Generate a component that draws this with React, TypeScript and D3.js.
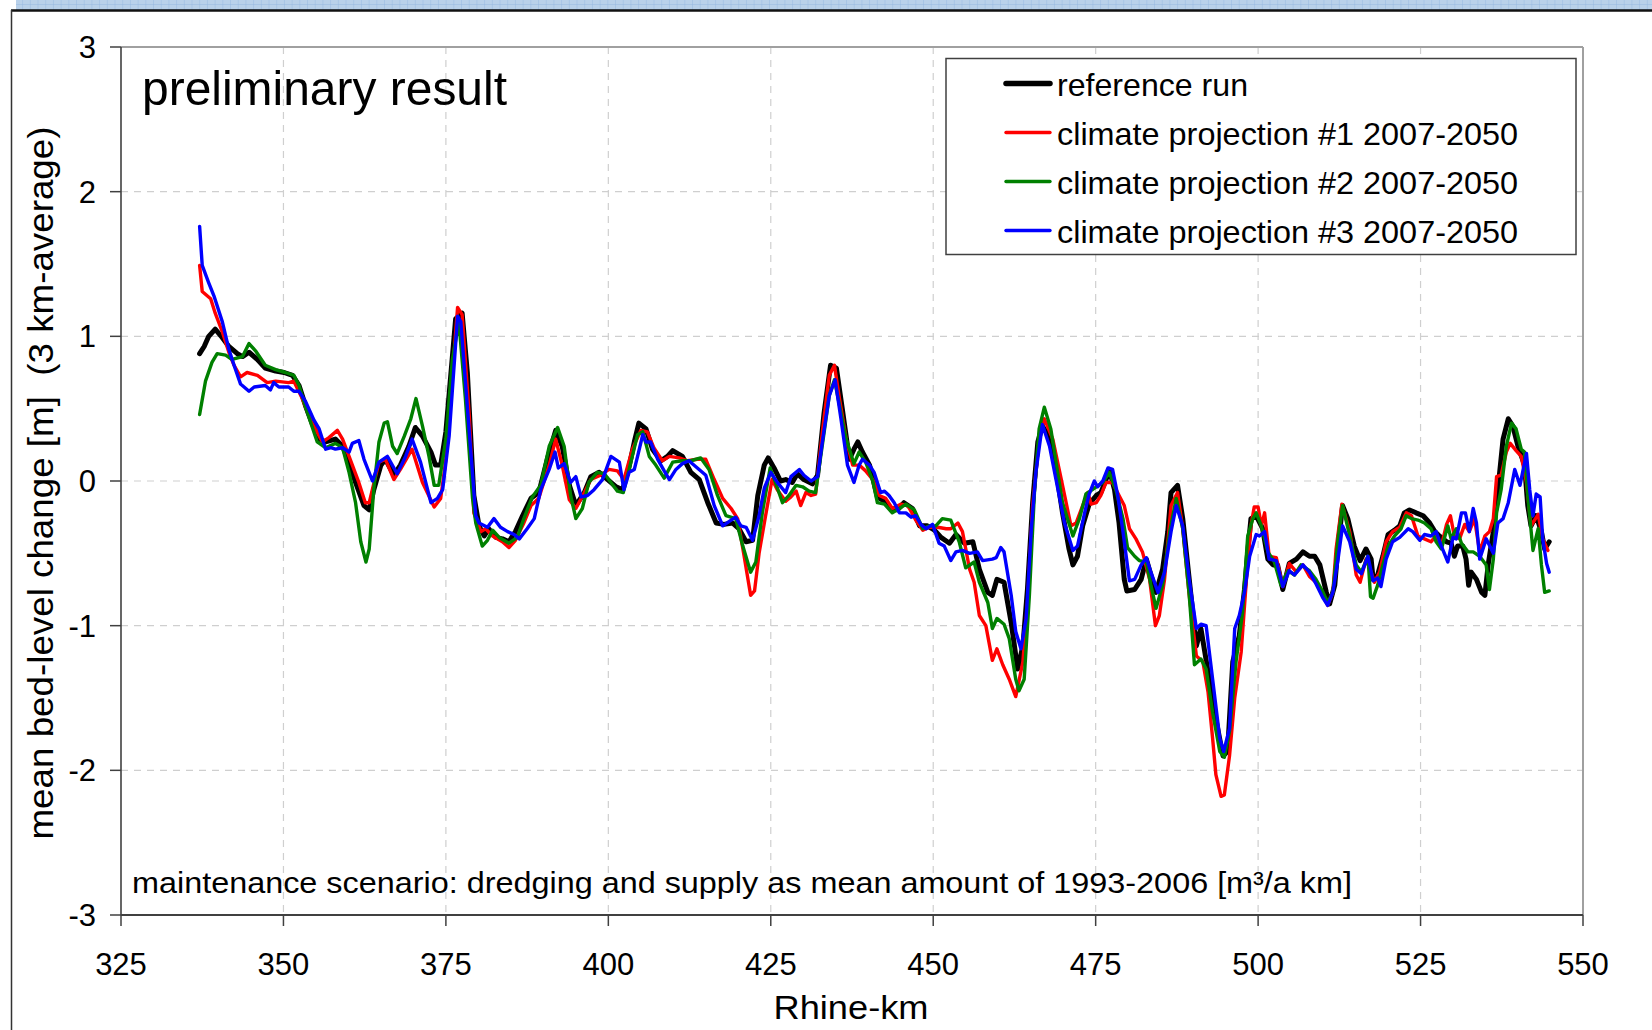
import React from "react";
import * as d3 from "d3";

// ---- data ----
const xTicks = [325, 350, 375, 400, 425, 450, 475, 500, 525, 550];
const yTicks = [-3, -2, -1, 0, 1, 2, 3];

const seriesNames = [
  "reference run",
  "climate projection #1 2007-2050",
  "climate projection #2 2007-2050",
  "climate projection #3 2007-2050",
];
const seriesColors = ["#000000", "#ff0000", "#008000", "#0000ff"];

const referenceRun: [number, number][] = [
  [337.1,0.88],[337.8,0.93],[338.5,1.00],[339.5,1.05],[340.6,0.99],[341.6,0.93],[342.9,0.88],[343.7,0.86],[344.7,0.89],[346.0,0.84],[347.2,0.78],[348.8,0.76],[350.1,0.75],[351.4,0.73],[352.4,0.66],[353.4,0.52],[354.4,0.40],[355.5,0.29],[356.5,0.27],[358.0,0.29],[359.1,0.24],[360.1,0.13],[361.1,-0.01],[362.4,-0.17],[363.2,-0.20],[363.9,-0.06],[365.0,0.11],[365.7,0.15],[367.0,0.04],[368.0,0.11],[369.3,0.24],[370.3,0.37],[371.4,0.31],[372.7,0.20],[373.4,0.11],[374.2,0.11],[375.0,0.34],[376.5,1.12],[377.5,1.16],[378.3,0.75],[379.3,-0.10],[380.1,-0.31],[380.9,-0.38],[381.6,-0.33],[382.7,-0.39],[383.7,-0.40],[384.7,-0.42],[385.7,-0.35],[386.8,-0.24],[388.1,-0.12],[389.3,-0.08],[390.6,0.15],[391.9,0.35],[392.9,0.24],[394.0,-0.03],[395.0,-0.17],[396.3,-0.08],[397.3,0.03],[398.6,0.06],[399.9,0.01],[401.2,-0.04],[402.2,-0.06],[403.2,0.10],[404.0,0.27],[404.7,0.40],[405.8,0.36],[406.8,0.22],[408.1,0.14],[409.1,0.17],[409.9,0.21],[411.4,0.17],[412.7,0.06],[414.0,0.01],[415.3,-0.15],[416.6,-0.29],[417.8,-0.30],[419.1,-0.29],[420.1,-0.33],[421.2,-0.42],[422.2,-0.41],[423.0,-0.10],[424.0,0.11],[424.6,0.16],[425.5,0.09],[426.5,0.00],[427.3,0.01],[428.3,-0.01],[429.1,0.05],[430.1,0.01],[431.4,-0.02],[432.2,0.04],[433.2,0.47],[434.2,0.80],[435.1,0.78],[436.0,0.50],[437.1,0.15],[437.8,0.22],[438.4,0.27],[439.1,0.20],[440.2,0.11],[441.4,-0.11],[442.5,-0.14],[443.5,-0.19],[444.5,-0.20],[445.5,-0.15],[446.8,-0.19],[447.9,-0.31],[449.1,-0.31],[450.2,-0.34],[451.2,-0.39],[452.5,-0.43],[453.5,-0.37],[454.8,-0.43],[456.1,-0.42],[457.1,-0.61],[458.4,-0.77],[459.1,-0.79],[459.8,-0.68],[460.9,-0.70],[462.0,-0.98],[463.0,-1.30],[463.8,-1.14],[464.5,-0.75],[465.3,-0.15],[466.1,0.27],[466.8,0.38],[467.9,0.30],[468.9,0.08],[469.9,-0.22],[470.9,-0.47],[471.5,-0.58],[472.2,-0.52],[473.0,-0.31],[474.0,-0.16],[475.1,-0.10],[475.8,-0.08],[476.6,0.01],[477.1,0.08],[477.9,-0.06],[478.6,-0.29],[479.4,-0.68],[479.8,-0.76],[481.0,-0.75],[482.0,-0.68],[482.8,-0.54],[483.5,-0.65],[484.3,-0.77],[485.3,-0.61],[486.1,-0.35],[486.6,-0.08],[487.6,-0.03],[488.4,-0.26],[489.4,-0.68],[490.5,-1.14],[491.2,-1.02],[492.3,-1.32],[493.3,-1.60],[494.6,-1.90],[495.3,-1.87],[496.1,-1.25],[497.1,-1.07],[497.9,-0.75],[498.4,-0.49],[498.9,-0.26],[499.7,-0.24],[500.7,-0.33],[501.5,-0.54],[502.3,-0.58],[503.0,-0.58],[503.8,-0.75],[504.8,-0.57],[505.9,-0.54],[506.9,-0.49],[507.9,-0.52],[508.7,-0.52],[509.5,-0.58],[510.5,-0.77],[511.0,-0.85],[511.8,-0.72],[512.3,-0.45],[513.0,-0.17],[513.8,-0.26],[514.8,-0.45],[515.7,-0.55],[516.6,-0.47],[517.4,-0.54],[517.7,-0.68],[518.4,-0.65],[519.2,-0.52],[520.0,-0.37],[521.0,-0.34],[521.8,-0.31],[522.5,-0.22],[523.3,-0.20],[524.3,-0.22],[525.4,-0.24],[526.4,-0.29],[527.2,-0.35],[527.9,-0.38],[529.0,-0.42],[529.7,-0.43],[530.2,-0.52],[530.7,-0.45],[531.5,-0.45],[532.0,-0.54],[532.4,-0.72],[532.8,-0.63],[533.6,-0.68],[534.4,-0.77],[534.9,-0.79],[535.4,-0.58],[536.2,-0.35],[536.9,-0.06],[537.7,0.29],[538.5,0.43],[539.2,0.38],[540.0,0.24],[541.0,0.11],[541.5,-0.17],[542.0,-0.31],[542.8,-0.24],[543.6,-0.35],[544.1,-0.47],[544.8,-0.42],
];

const projection1: [number, number][] = [
  [337.1,1.49],[337.5,1.31],[338.8,1.26],[339.5,1.16],[340.6,1.03],[341.6,0.89],[342.4,0.80],[343.4,0.72],[344.4,0.75],[346.0,0.73],[347.5,0.68],[348.8,0.69],[350.8,0.68],[351.6,0.69],[352.9,0.57],[354.4,0.40],[356.0,0.27],[357.0,0.30],[358.3,0.35],[359.1,0.29],[360.1,0.17],[361.6,-0.01],[362.6,-0.15],[363.2,-0.15],[364.7,0.13],[365.7,0.15],[367.0,0.01],[368.0,0.08],[369.8,0.22],[371.4,-0.01],[373.2,-0.18],[374.2,-0.12],[375.0,0.15],[376.8,1.20],[377.5,1.15],[378.6,0.45],[379.3,-0.22],[380.4,-0.35],[381.1,-0.33],[382.2,-0.38],[383.7,-0.42],[384.7,-0.46],[385.7,-0.41],[387.0,-0.29],[388.1,-0.17],[389.3,-0.12],[390.9,0.11],[391.9,0.29],[392.9,0.11],[394.0,-0.13],[395.0,-0.19],[396.3,-0.08],[397.3,0.01],[398.8,0.04],[400.1,0.08],[401.4,0.07],[402.4,0.01],[403.7,0.22],[405.0,0.35],[406.0,0.34],[407.0,0.23],[408.3,0.14],[409.4,0.17],[410.9,0.16],[412.2,0.14],[413.7,0.15],[415.0,0.15],[416.3,0.01],[417.6,-0.12],[418.9,-0.19],[419.9,-0.26],[420.9,-0.52],[421.9,-0.79],[422.5,-0.76],[423.2,-0.50],[424.2,-0.24],[425.2,0.01],[426.0,-0.06],[427.3,-0.14],[428.1,-0.11],[428.9,-0.07],[429.6,-0.17],[430.4,-0.08],[431.2,-0.10],[431.9,-0.09],[433.0,0.36],[434.0,0.73],[434.8,0.80],[435.5,0.59],[436.6,0.29],[437.6,0.11],[438.6,0.11],[439.6,0.07],[440.7,0.01],[441.7,-0.10],[442.7,-0.12],[443.7,-0.19],[445.0,-0.16],[446.1,-0.17],[447.3,-0.27],[448.4,-0.34],[449.4,-0.32],[450.7,-0.32],[452.0,-0.33],[452.7,-0.33],[453.8,-0.29],[454.5,-0.35],[455.6,-0.61],[456.3,-0.70],[457.1,-0.93],[458.1,-1.00],[459.1,-1.24],[459.8,-1.16],[460.7,-1.27],[461.7,-1.37],[462.7,-1.49],[463.8,-1.25],[464.5,-0.84],[465.3,-0.17],[466.3,0.29],[467.1,0.43],[468.4,0.29],[469.9,-0.03],[471.2,-0.31],[472.0,-0.29],[473.0,-0.17],[473.8,-0.08],[474.3,-0.16],[475.1,-0.15],[475.8,-0.10],[476.6,-0.01],[477.6,-0.01],[478.6,-0.10],[479.4,-0.17],[480.2,-0.33],[481.2,-0.40],[482.2,-0.49],[483.3,-0.68],[484.2,-1.00],[484.8,-0.93],[485.6,-0.68],[486.6,-0.17],[487.6,-0.08],[488.4,-0.33],[489.4,-0.79],[490.5,-1.21],[491.5,-1.25],[492.3,-1.46],[493.0,-1.78],[493.5,-2.03],[494.3,-2.18],[494.8,-2.17],[495.6,-1.90],[496.4,-1.50],[497.4,-1.18],[498.2,-0.68],[498.9,-0.31],[499.4,-0.18],[500.0,-0.18],[500.5,-0.31],[501.0,-0.22],[501.7,-0.52],[502.8,-0.53],[503.8,-0.73],[504.8,-0.57],[505.9,-0.63],[506.9,-0.58],[507.9,-0.66],[508.9,-0.70],[510.0,-0.79],[510.7,-0.86],[511.5,-0.77],[512.0,-0.47],[512.9,-0.16],[514.1,-0.35],[515.1,-0.65],[515.7,-0.70],[516.6,-0.54],[517.4,-0.63],[517.9,-0.70],[518.7,-0.63],[519.7,-0.42],[520.7,-0.35],[521.8,-0.32],[522.8,-0.22],[523.6,-0.24],[524.6,-0.38],[525.6,-0.40],[526.6,-0.42],[527.4,-0.38],[528.2,-0.45],[529.0,-0.30],[529.6,-0.24],[530.2,-0.38],[531.0,-0.40],[531.8,-0.30],[532.5,-0.35],[533.3,-0.26],[534.1,-0.49],[534.9,-0.38],[535.6,-0.35],[536.2,-0.26],[536.7,0.03],[537.4,0.04],[538.2,0.20],[538.8,0.26],[539.7,0.21],[540.5,0.17],[541.3,-0.01],[542.0,-0.31],[543.1,-0.23],[543.8,-0.40],[544.6,-0.48],
];

const projection2: [number, number][] = [
  [337.1,0.46],[338.0,0.69],[339.0,0.82],[339.8,0.88],[341.1,0.87],[342.1,0.84],[343.7,0.86],[344.7,0.95],[345.7,0.90],[347.2,0.80],[348.8,0.77],[350.3,0.75],[351.6,0.73],[352.4,0.66],[353.7,0.47],[355.2,0.27],[356.5,0.23],[358.0,0.26],[359.1,0.23],[360.1,0.06],[361.1,-0.15],[361.9,-0.42],[362.7,-0.56],[363.2,-0.47],[363.9,-0.06],[364.7,0.27],[365.5,0.40],[366.0,0.41],[366.8,0.24],[367.5,0.19],[368.6,0.31],[369.6,0.43],[370.4,0.57],[371.4,0.38],[372.4,0.17],[373.2,-0.03],[373.9,-0.03],[375.0,0.29],[376.0,0.84],[377.0,1.10],[378.0,0.57],[379.1,-0.12],[379.6,-0.29],[380.6,-0.45],[381.4,-0.41],[382.2,-0.34],[383.2,-0.39],[384.7,-0.43],[386.0,-0.39],[387.0,-0.26],[388.3,-0.11],[389.6,-0.03],[390.9,0.24],[392.2,0.37],[393.2,0.24],[394.2,-0.10],[395.0,-0.26],[396.0,-0.19],[397.0,-0.01],[398.3,0.06],[399.4,0.05],[400.4,-0.01],[401.4,-0.07],[402.3,-0.08],[403.2,0.08],[404.5,0.32],[405.3,0.34],[406.3,0.17],[407.3,0.11],[408.6,0.02],[409.9,0.13],[411.4,0.14],[412.7,0.14],[414.2,0.16],[415.5,0.08],[416.8,-0.10],[418.1,-0.24],[419.6,-0.26],[420.7,-0.45],[421.9,-0.63],[422.7,-0.56],[423.7,-0.22],[424.9,0.09],[425.8,-0.02],[426.8,-0.15],[427.8,-0.10],[428.9,-0.03],[429.9,-0.04],[430.9,-0.07],[431.9,-0.08],[433.0,0.27],[434.0,0.59],[434.8,0.70],[435.5,0.54],[436.6,0.29],[437.8,0.12],[438.6,0.20],[439.6,0.13],[440.7,0.00],[441.4,-0.15],[442.5,-0.16],[443.7,-0.22],[444.8,-0.19],[445.8,-0.16],[447.1,-0.20],[448.4,-0.33],[449.4,-0.31],[450.4,-0.31],[451.4,-0.26],[452.7,-0.27],[454.0,-0.42],[455.0,-0.60],[456.3,-0.56],[457.1,-0.70],[458.4,-0.84],[459.1,-1.02],[459.8,-0.95],[460.9,-0.99],[461.7,-1.09],[462.7,-1.37],[463.2,-1.45],[464.0,-1.37],[464.8,-0.79],[465.6,-0.06],[466.3,0.36],[467.1,0.51],[468.1,0.36],[468.9,0.13],[469.9,-0.15],[471.5,-0.38],[472.5,-0.26],[473.5,-0.09],[474.5,-0.06],[476.1,-0.01],[477.1,0.06],[478.1,-0.06],[479.2,-0.26],[479.9,-0.46],[481.0,-0.52],[481.7,-0.55],[482.8,-0.56],[483.5,-0.72],[484.3,-0.88],[485.3,-0.72],[486.4,-0.35],[487.4,-0.12],[488.4,-0.33],[489.4,-0.79],[490.2,-1.27],[491.2,-1.23],[492.0,-1.30],[493.0,-1.60],[494.1,-1.87],[494.8,-1.91],[495.6,-1.73],[496.6,-1.25],[497.6,-0.91],[498.4,-0.38],[499.2,-0.26],[499.7,-0.22],[500.5,-0.31],[501.5,-0.49],[502.5,-0.56],[503.5,-0.72],[504.6,-0.62],[505.6,-0.65],[506.6,-0.58],[507.9,-0.62],[508.9,-0.68],[510.0,-0.77],[510.7,-0.84],[511.5,-0.77],[512.3,-0.40],[513.0,-0.17],[514.1,-0.38],[515.1,-0.58],[515.9,-0.63],[516.9,-0.52],[517.3,-0.80],[517.7,-0.81],[518.4,-0.72],[519.2,-0.58],[520.0,-0.45],[521.0,-0.38],[522.0,-0.33],[522.8,-0.24],[523.6,-0.26],[524.6,-0.27],[525.6,-0.29],[526.6,-0.33],[527.4,-0.42],[528.2,-0.47],[529.2,-0.31],[529.7,-0.40],[530.5,-0.33],[531.3,-0.43],[532.3,-0.49],[533.1,-0.49],[534.1,-0.52],[535.1,-0.58],[535.6,-0.75],[536.2,-0.54],[536.7,-0.22],[537.4,-0.06],[538.2,0.24],[539.0,0.40],[539.7,0.36],[540.5,0.22],[541.0,0.20],[541.5,-0.10],[542.3,-0.48],[543.1,-0.33],[543.6,-0.58],[544.1,-0.77],[544.8,-0.76],
];

const projection3: [number, number][] = [
  [337.1,1.76],[337.5,1.49],[338.5,1.37],[339.3,1.28],[340.6,1.10],[341.6,0.91],[342.4,0.80],[343.4,0.67],[344.7,0.62],[345.5,0.65],[347.2,0.66],[348.0,0.63],[348.5,0.68],[349.3,0.65],[350.8,0.65],[351.6,0.62],[352.4,0.62],[353.4,0.55],[354.7,0.42],[355.5,0.36],[356.5,0.22],[357.3,0.23],[358.0,0.22],[359.1,0.23],[360.1,0.20],[360.6,0.26],[361.6,0.28],[362.4,0.15],[363.7,0.00],[364.7,0.13],[366.0,0.17],[367.5,0.05],[368.8,0.17],[369.8,0.29],[371.1,0.13],[372.7,-0.15],[373.7,-0.12],[374.5,-0.06],[375.5,0.31],[376.8,1.14],[377.3,1.10],[378.6,0.34],[379.6,-0.24],[380.1,-0.29],[381.4,-0.32],[382.4,-0.26],[383.4,-0.32],[384.5,-0.35],[385.5,-0.37],[386.3,-0.40],[387.5,-0.33],[388.6,-0.26],[389.6,-0.06],[390.9,0.08],[391.8,0.20],[392.3,0.09],[393.2,0.12],[394.2,-0.01],[395.0,0.03],[395.8,-0.11],[396.8,-0.10],[397.8,-0.06],[399.1,0.01],[400.4,0.17],[401.7,0.13],[402.4,-0.06],[403.2,0.06],[404.0,0.08],[404.5,0.17],[405.3,0.32],[405.8,0.27],[406.5,0.27],[407.6,0.15],[408.6,0.07],[409.4,0.01],[410.4,0.08],[411.4,0.12],[412.4,0.14],[413.7,0.09],[415.0,0.04],[416.3,-0.17],[417.6,-0.31],[418.9,-0.27],[419.6,-0.25],[420.4,-0.31],[421.2,-0.32],[422.2,-0.41],[423.2,-0.24],[424.0,-0.05],[425.0,0.06],[426.0,-0.01],[427.3,-0.08],[428.1,0.03],[429.4,0.08],[430.1,0.04],[431.2,0.00],[432.2,0.03],[433.0,0.29],[434.0,0.59],[434.9,0.70],[435.8,0.43],[436.8,0.11],[437.8,-0.01],[438.6,0.11],[439.1,0.15],[440.2,0.11],[440.9,0.06],[441.9,-0.08],[442.5,-0.07],[443.2,-0.10],[444.0,-0.15],[444.8,-0.22],[445.8,-0.22],[446.6,-0.25],[447.3,-0.24],[448.1,-0.30],[448.9,-0.33],[449.9,-0.30],[450.9,-0.43],[451.7,-0.45],[452.7,-0.55],[453.5,-0.49],[454.5,-0.48],[455.6,-0.50],[456.8,-0.49],[457.6,-0.55],[459.1,-0.54],[459.7,-0.53],[460.4,-0.46],[460.9,-0.49],[462.0,-0.79],[462.7,-1.04],[463.5,-1.16],[464.3,-0.95],[465.1,-0.33],[465.8,0.06],[466.8,0.39],[467.9,0.24],[468.9,0.01],[470.2,-0.29],[471.5,-0.48],[472.2,-0.45],[473.3,-0.22],[474.0,-0.09],[474.8,0.00],[475.3,-0.04],[476.1,0.00],[476.9,0.09],[477.6,0.08],[478.4,-0.10],[479.2,-0.35],[480.2,-0.69],[481.0,-0.68],[482.0,-0.58],[482.8,-0.53],[483.5,-0.63],[484.6,-0.77],[485.6,-0.63],[486.6,-0.35],[487.4,-0.17],[488.4,-0.31],[489.4,-0.68],[490.5,-1.02],[491.2,-0.99],[492.0,-1.00],[493.0,-1.37],[494.1,-1.78],[494.7,-1.87],[495.6,-1.71],[496.4,-1.02],[497.1,-0.93],[497.9,-0.77],[498.7,-0.52],[499.7,-0.37],[500.2,-0.38],[501.0,-0.35],[501.7,-0.54],[502.8,-0.55],[503.8,-0.73],[504.8,-0.62],[505.6,-0.65],[506.9,-0.58],[507.9,-0.63],[508.9,-0.71],[510.0,-0.81],[510.7,-0.86],[511.5,-0.77],[512.3,-0.54],[513.0,-0.31],[514.1,-0.42],[515.1,-0.61],[515.9,-0.64],[516.9,-0.52],[517.7,-0.69],[518.4,-0.67],[518.9,-0.73],[519.7,-0.54],[520.7,-0.42],[521.8,-0.39],[523.1,-0.33],[523.8,-0.35],[524.9,-0.41],[525.6,-0.37],[526.6,-0.38],[527.4,-0.35],[528.2,-0.45],[529.2,-0.56],[530.0,-0.39],[530.5,-0.40],[531.3,-0.22],[531.9,-0.22],[532.5,-0.35],[533.1,-0.19],[533.6,-0.29],[534.1,-0.54],[535.1,-0.40],[536.2,-0.50],[536.9,-0.29],[537.7,-0.26],[538.5,-0.15],[539.5,0.08],[540.3,-0.03],[540.8,0.08],[541.3,0.19],[541.8,-0.06],[542.3,-0.24],[542.8,-0.09],[543.4,-0.11],[543.8,-0.40],[544.4,-0.57],[544.8,-0.63],
];

const allSeries = [referenceRun, projection1, projection2, projection3];

const titleText = "preliminary result";
const noteText = "maintenance scenario: dredging and supply as mean amount of 1993-2006 [m\u00b3/a km]";
const xTitle = "Rhine-km";
const yTitle = "mean bed-level change [m]  (3 km-average)";

// ---- layout ----
const W = 1652;
const H = 1030;
const M = { left: 121, right: 1583, top: 47, bottom: 915 };
const FONT = "'Liberation Sans', Arial, Helvetica, sans-serif";

export default function App() {
  const x = d3.scaleLinear().domain([325, 550]).range([M.left, M.right]);
  const y = d3.scaleLinear().domain([-3, 3]).range([M.bottom, M.top]);
  const line = d3
    .line<[number, number]>()
    .x((d) => x(d[0]))
    .y((d) => y(d[1]));

  const widths = [5, 3.4, 3.4, 3.4];
  const legendWidths = [5.5, 3.4, 3.4, 3.4];

  return (
    <svg
      width={W}
      height={H}
      viewBox={`0 0 ${W} ${H}`}
      style={{ position: "absolute", left: 0, top: 0, background: "#fff" }}
      fontFamily={FONT}
    >
      <defs>
        <pattern id="bandGrid" width="7.7" height="5" patternUnits="userSpaceOnUse">
          <rect width="7.7" height="5" fill="#b9d1ea" />
          <path d="M7.7 0 V5 M0 5 H7.7" stroke="#8fb3de" strokeWidth="0.8" />
        </pattern>
      </defs>
      <rect x={0} y={0} width={W} height={H} fill="#fff" />

      {/* top band and outer frame */}
      <rect x={16} y={0} width={W - 16} height={10} fill="url(#bandGrid)" />
      <line x1={11} y1={10.5} x2={W} y2={10.5} stroke="#111" strokeWidth={2.4} />
      <line x1={11.5} y1={10} x2={11.5} y2={H} stroke="#333" strokeWidth={1.5} />

      {/* grid */}
      {xTicks
        .filter((t) => t > 325 && t < 550)
        .map((t) => (
          <line
            key={"gx" + t}
            x1={x(t)}
            x2={x(t)}
            y1={M.top}
            y2={M.bottom}
            stroke="#cfcfcf"
            strokeWidth={1.2}
            strokeDasharray="7,6"
          />
        ))}
      {yTicks
        .filter((t) => t > -3 && t < 3)
        .map((t) => (
          <line
            key={"gy" + t}
            x1={M.left}
            x2={M.right}
            y1={y(t)}
            y2={y(t)}
            stroke="#cfcfcf"
            strokeWidth={1.2}
            strokeDasharray="7,6"
          />
        ))}

      {/* plot frame */}
      <line x1={M.left} y1={M.top} x2={M.right} y2={M.top} stroke="#a0a0a0" strokeWidth={2} />
      <line x1={M.right} y1={M.top} x2={M.right} y2={M.bottom} stroke="#a0a0a0" strokeWidth={2} />

      {/* series */}
      {allSeries.map((s, i) => (
        <path
          key={"s" + i}
          d={line(s) || ""}
          fill="none"
          stroke={seriesColors[i]}
          strokeWidth={widths[i]}
          strokeLinejoin="round"
          strokeLinecap="round"
        />
      ))}

      {/* axes */}
      <line x1={M.left} y1={M.top} x2={M.left} y2={M.bottom} stroke="#404040" strokeWidth={1.6} />
      <line x1={M.left} y1={M.bottom} x2={M.right} y2={M.bottom} stroke="#404040" strokeWidth={2.2} />
      {yTicks.map((t) => (
        <g key={"yt" + t}>
          <line x1={M.left - 11} x2={M.left} y1={y(t)} y2={y(t)} stroke="#404040" strokeWidth={1.5} />
          <text x={96} y={y(t) + 11} textAnchor="end" fontSize={31} fill="#000">
            {t}
          </text>
        </g>
      ))}
      {xTicks.map((t) => (
        <g key={"xt" + t}>
          <line x1={x(t)} x2={x(t)} y1={M.bottom} y2={M.bottom + 11} stroke="#404040" strokeWidth={1.5} />
          <text x={x(t)} y={975} textAnchor="middle" fontSize={31} fill="#000">
            {t}
          </text>
        </g>
      ))}

      {/* titles */}
      <text x={851} y={1019} textAnchor="middle" fontSize={34} textLength={155} lengthAdjust="spacingAndGlyphs">
        {xTitle}
      </text>
      <text
        transform="translate(53,483) rotate(-90)"
        textAnchor="middle"
        fontSize={35}
        textLength={713}
        lengthAdjust="spacingAndGlyphs"
        style={{ whiteSpace: "pre" }}
      >
        {yTitle}
      </text>

      <text x={142} y={105} fontSize={49} textLength={365} lengthAdjust="spacingAndGlyphs">
        {titleText}
      </text>
      <text x={132} y={893} fontSize={30} textLength={1220} lengthAdjust="spacingAndGlyphs">
        {noteText}
      </text>

      {/* legend */}
      <rect x={946} y={58.5} width={630} height={196} fill="#fff" stroke="#404040" strokeWidth={1.5} />
      {seriesNames.map((n, i) => {
        const ly = 84.5 + i * 49;
        return (
          <g key={"lg" + i}>
            <line
              x1={1006}
              x2={1050}
              y1={ly - 1}
              y2={ly - 1}
              stroke={seriesColors[i]}
              strokeWidth={legendWidths[i]}
              strokeLinecap="round"
            />
            <text
              x={1057}
              y={ly + 11.5}
              fontSize={32}
              textLength={i === 0 ? 191 : 461}
              lengthAdjust="spacingAndGlyphs"
            >
              {n}
            </text>
          </g>
        );
      })}
    </svg>
  );
}
